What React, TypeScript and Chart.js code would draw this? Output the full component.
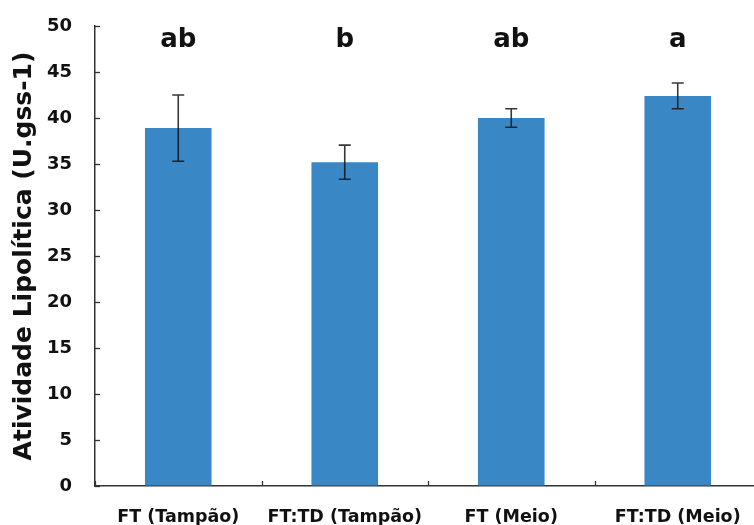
import React, { useEffect, useRef } from "react";
import { Chart, registerables } from "chart.js";

Chart.register(...registerables);

const categories = ["FT (Tampão)", "FT:TD (Tampão)", "FT (Meio)", "FT:TD (Meio)"];
const means = [38.9, 35.2, 40.0, 42.4];
const errors = [3.6, 1.85, 1.0, 1.4];
const letters = ["ab", "b", "ab", "a"];
const yTicks = [0, 5, 10, 15, 20, 25, 30, 35, 40, 45, 50];

const FONT = "'DejaVu Sans', sans-serif";
const BAR_COLOR = "#3a87c5";
const AXIS_COLOR = "#333333";

const extrasPlugin = {
  id: "extras",
  afterDatasetsDraw(chart: any) {
    const ctx = chart.ctx;
    const x = chart.scales.x;
    const y = chart.scales.y;
    const area = chart.chartArea;
    ctx.save();
    // error bars
    ctx.strokeStyle = "rgba(20,20,20,0.85)";
    ctx.lineWidth = 1.6;
    means.forEach((m, i) => {
      const cx = x.getPixelForValue(i);
      const top = y.getPixelForValue(m + errors[i]);
      const bot = y.getPixelForValue(m - errors[i]);
      ctx.beginPath();
      ctx.moveTo(cx, top);
      ctx.lineTo(cx, bot);
      ctx.moveTo(cx - 6, top);
      ctx.lineTo(cx + 6, top);
      ctx.moveTo(cx - 6, bot);
      ctx.lineTo(cx + 6, bot);
      ctx.stroke();
    });
    // letters
    ctx.fillStyle = "#111";
    ctx.font = `bold 26px ${FONT}`;
    ctx.textAlign = "center";
    ctx.textBaseline = "alphabetic";
    letters.forEach((l, i) => {
      const cx = x.getPixelForValue(i);
      ctx.fillText(l, cx, area.top + 21);
    });
    // inner ticks on y axis
    ctx.strokeStyle = AXIS_COLOR;
    ctx.lineWidth = 1.3;
    yTicks.forEach((v) => {
      const py = Math.round(y.getPixelForValue(v)) + 0.5;
      ctx.beginPath();
      ctx.moveTo(area.left, py);
      ctx.lineTo(area.left + 5, py);
      ctx.stroke();
    });
    // inner ticks on x axis at category boundaries
    for (let i = 0; i <= categories.length; i++) {
      const px = Math.round(x.getPixelForValue(i - 0.5)) + 0.5;
      ctx.beginPath();
      ctx.moveTo(px, area.bottom);
      ctx.lineTo(px, area.bottom - 5);
      ctx.stroke();
    }
    ctx.restore();
  },
};

export default function App() {
  const ref = useRef<HTMLCanvasElement>(null);
  useEffect(() => {
    if (!ref.current) return;
    const chart = new Chart(ref.current, {
      type: "bar",
      data: {
        labels: categories,
        datasets: [
          {
            data: means,
            backgroundColor: BAR_COLOR,
            borderWidth: 0,
            barPercentage: 0.4,
            categoryPercentage: 1,
          },
        ],
      },
      options: {
        animation: false,
        responsive: false,
        maintainAspectRatio: false,
        layout: { padding: { top: 26, right: 1, left: 0, bottom: 0 } },
        plugins: {
          legend: { display: false },
          tooltip: { enabled: false },
          title: { display: false },
        },
        scales: {
          x: {
            grid: { drawOnChartArea: false, drawTicks: false },
            border: { display: true, color: AXIS_COLOR, width: 1.5 },
            ticks: {
              color: "#111",
              font: { family: FONT, size: 17.5, weight: "bold" },
              padding: 21,
              maxRotation: 0,
              autoSkip: false,
            },
            afterFit: (s: any) => {
              s.height = 39;
              s.paddingLeft = 0;
              s.paddingRight = 0;
            },
          },
          y: {
            min: 0,
            max: 50,
            grid: { drawOnChartArea: false, drawTicks: false },
            border: { display: true, color: AXIS_COLOR, width: 1.5 },
            afterBuildTicks: (s: any) => {
              s.ticks = yTicks.map((v) => ({ value: v }));
            },
            ticks: {
              color: "#111",
              font: { family: FONT, size: 18, weight: "bold" },
              padding: 23,
            },
            title: {
              display: true,
              text: "Atividade Lipolítica (U.gss-1)",
              color: "#111",
              font: { family: FONT, size: 25, weight: "bold" },
              padding: { top: 9, bottom: 0 },
            },
            afterFit: (s: any) => {
              s.width = 95;
              s.paddingTop = 0;
              s.paddingBottom = 0;
            },
          },
        },
      },
      plugins: [extrasPlugin],
    });
    return () => chart.destroy();
  }, []);
  return (
    <div
      style={{
        position: "fixed",
        left: 0,
        top: 0,
        width: 754,
        height: 525,
        overflow: "hidden",
        background: "#fff",
      }}
    >
      <canvas ref={ref} width={762} height={525} style={{ width: 762, height: 525, display: "block" }} />
    </div>
  );
}
